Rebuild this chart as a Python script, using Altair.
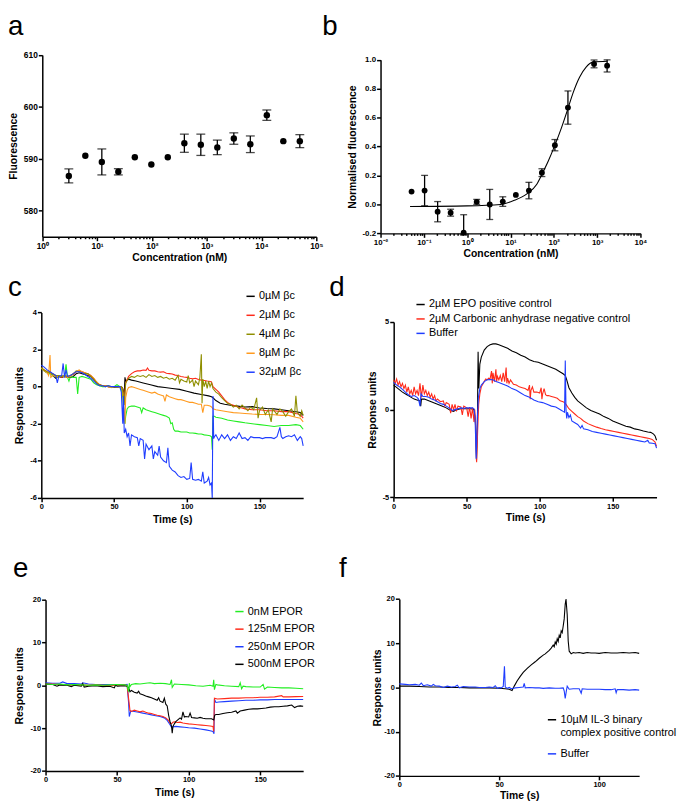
import altair as alt
import pandas as pd

FONT = "Liberation Sans"
BLACK = "#000000"
RED = "#ff2a1a"
OLIVE = "#8f8f00"
ORANGE = "#ff9a1f"
GREEN = "#22ee22"
BLUE = "#1f3dff"

# ---------------- panel a ----------------
A_CONC = [3.05, 6.1, 12.2, 24.4, 48.8, 97.7, 195, 391, 781, 1562, 3125, 6250, 12500, 25000, 50000]
A_FLUOR = [586.7, 590.6, 589.4, 587.5, 590.3, 588.9, 590.3, 593.0, 592.7, 592.2, 593.9, 592.8, 598.4, 593.4, 593.4]
A_ERR = [1.35, 0.0, 2.5, 0.6, 0.0, 0.0, 0.0, 1.75, 2.05, 1.4, 1.1, 1.6, 1.0, 0.0, 1.25]

# ---------------- panel b ----------------
B_CONC = [0.052, 0.104, 0.208, 0.415, 0.83, 1.66, 3.32, 6.64, 13.3, 26.6, 53.1, 106, 212, 850, 1700]
B_NORM = [0.089, 0.096, -0.05, -0.057, -0.196, 0.018, 0.0, 0.02, 0.066, 0.096, 0.22, 0.41, 0.67, 0.972, 0.96]
B_ERR = [0.0, 0.105, 0.07, 0.024, 0.125, 0.017, 0.104, 0.033, 0.0, 0.057, 0.027, 0.039, 0.115, 0.027, 0.044]
B_FIT_CONC = [0.048, 1.0, 5.9, 11.9, 23.9, 40.5, 53.5, 74.6, 106, 150, 213, 277, 393, 557, 791, 1734]
B_FIT_Y = [-0.014, -0.01, 0.0, 0.027, 0.073, 0.14, 0.21, 0.30, 0.41, 0.53, 0.665, 0.77, 0.88, 0.95, 0.984, 0.99]

# ---------------- panel c (time s, response units) ----------------
C_LABELS = ["0µM βc", "2µM βc", "4µM βc", "8µM βc", "32µM βc"]
C_BLACK = [[0, 1.0], [2, 0.85], [4, 0.75], [6, 0.7], [8, 0.6], [10, 0.45], [12, 0.55], [14, 0.5], [16, 0.55], [18, 0.5],
           [20, 0.5], [22, 0.55], [24, 0.7], [26, 0.75], [28, 0.7], [30, 0.65], [32, 0.6], [34, 0.55], [36, 0.4], [38, 0.2],
           [40, 0.1], [42, 0.05], [44, 0.05], [46, 0.0], [48, 0.0], [50, -0.05], [52, -0.05], [54, 0.0], [55, 0.0], [56, -0.1],
           [57, -0.5], [57.5, 0.5], [58, 0.3], [60, 0.4], [62, 0.35], [65, 0.3], [70, 0.2], [75, 0.1], [80, 0.0], [85, -0.05],
           [90, -0.1], [95, -0.15], [100, -0.25], [105, -0.35], [110, -0.42], [115, -0.5], [117, -0.55], [118, -0.6], [120, -0.75],
           [123, -0.9], [126, -0.95], [130, -1.0], [135, -1.05], [140, -1.1], [145, -1.08], [150, -1.15], [155, -1.18], [160, -1.2],
           [165, -1.25], [170, -1.3], [175, -1.35], [178, -1.4], [180, -1.55]]
C_RED = [[0, 1.0], [2, 0.9], [4, 0.8], [6, 0.75], [8, 0.65], [10, 0.55], [12, 0.6], [14, 0.5], [16, 0.6], [18, 0.55],
         [20, 0.6], [22, 0.65], [24, 0.8], [26, 0.85], [28, 0.8], [30, 0.75], [32, 0.7], [34, 0.6], [36, 0.45], [38, 0.25],
         [40, 0.1], [42, 0.05], [44, 0.05], [46, 0.0], [48, -0.05], [50, 0.0], [52, -0.05], [54, 0.0], [55, 0.0], [56, -0.2],
         [57, -0.8], [58, 0.2], [60, 0.55], [62, 0.7], [64, 0.8], [66, 0.85], [68, 0.85], [70, 0.9], [72, 0.88], [73, 1.0],
         [74, 0.88], [76, 0.85], [78, 0.85], [80, 0.8], [82, 0.78], [84, 0.8], [86, 0.72], [88, 0.7], [90, 0.68], [92, 0.62],
         [94, 0.6], [96, 0.55], [98, 0.52], [100, 0.5], [102, 0.45], [104, 0.42], [106, 0.45], [108, 0.38], [110, 0.35],
         [112, 0.33], [114, 0.3], [116, 0.28], [117, 0.25], [118, 0.0], [120, -0.15], [122, -0.3], [124, -0.5], [126, -0.7],
         [128, -0.85], [130, -0.95], [132, -1.0], [135, -1.1], [138, -1.15], [140, -1.2], [145, -1.25], [150, -1.25],
         [155, -1.3], [160, -1.3], [165, -1.35], [170, -1.35], [175, -1.45], [178, -1.5], [180, -1.7]]
C_OLIVE = [[0, 1.0], [2, 0.9], [4, 0.8], [6, 0.75], [8, 0.7], [10, 0.6], [12, 0.6], [14, 0.55], [16, 0.6], [18, 0.55],
           [20, 0.6], [22, 0.7], [24, 0.85], [26, 0.8], [28, 0.75], [30, 0.7], [32, 0.7], [34, 0.55], [36, 0.4], [38, 0.2],
           [40, 0.1], [42, 0.05], [44, 0.0], [46, 0.05], [48, 0.0], [50, 0.0], [52, -0.05], [54, 0.0], [55, 0.0], [56, -0.2],
           [57, -1.0], [58, 0.2], [60, 0.45], [62, 0.55], [64, 0.5], [66, 0.6], [68, 0.55], [70, 0.6], [72, 0.5], [74, 0.65],
           [76, 0.55], [78, 0.6], [80, 0.5], [82, 0.55], [84, 0.45], [86, 0.5], [88, 0.4], [90, 0.45], [92, 0.35], [94, 0.6],
           [95, 0.2], [96, 0.4], [98, 0.3], [100, 0.25], [101, 0.6], [102, 0.2], [104, 0.35], [105, 0.0], [106, 0.3], [108, 0.1],
           [109, 0.5], [110, 1.75], [110.5, -0.9], [111, 0.4], [112, 0.0], [113, 0.3], [114, -0.1], [115, 0.3], [116, 0.0],
           [117, 0.2], [118, -0.1], [120, -0.3], [122, -0.4], [124, -0.6], [126, -0.75], [128, -0.9], [130, -0.95], [132, -1.1],
           [134, -1.0], [136, -1.2], [138, -1.0], [140, -1.15], [142, -1.3], [144, -1.1], [146, -1.25], [148, -0.6], [149, -1.7],
           [150, -1.3], [152, -1.1], [154, -1.5], [156, -1.25], [158, -1.9], [159, -1.2], [160, -1.3], [162, -1.5], [164, -1.2],
           [166, -1.35], [168, -1.6], [170, -1.35], [172, -1.2], [174, -1.6], [175, -0.5], [176, -1.4], [178, -1.6], [179, -1.3],
           [180, -1.55]]
C_ORANGE = [[0, 1.0], [2, 0.85], [4, 0.75], [5, 0.6], [6, 1.7], [6.5, 0.5], [8, 0.6], [10, 0.55], [12, 0.5], [14, 0.6],
            [16, 0.55], [18, 0.5], [20, 0.55], [22, 0.7], [24, 0.8], [26, 0.9], [28, 0.8], [30, 0.75], [32, 0.65], [34, 0.6],
            [36, 0.45], [38, 0.25], [40, 0.1], [42, 0.05], [44, 0.05], [46, 0.0], [48, -0.05], [50, 0.0], [52, 0.0], [54, -0.05],
            [55, 0.0], [56, -0.3], [57, -1.5], [57.5, -2.0], [58, -0.6], [59, -0.2], [60, -0.05], [62, 0.0], [64, -0.05],
            [66, -0.1], [68, -0.15], [70, -0.2], [72, -0.25], [74, -0.3], [76, -0.35], [78, -0.3], [80, -0.4], [82, -0.45],
            [84, -0.5], [85, -0.8], [86, -0.45], [88, -0.55], [90, -0.6], [92, -0.65], [94, -0.7], [96, -0.7], [98, -0.75],
            [100, -0.8], [102, -0.85], [104, -0.85], [106, -0.9], [108, -0.95], [110, -0.95], [111, -1.4], [112, -1.0],
            [114, -1.0], [116, -1.05], [117, -1.1], [118, -1.2], [120, -1.25], [124, -1.3], [128, -1.35], [132, -1.4],
            [136, -1.42], [140, -1.45], [145, -1.48], [150, -1.5], [155, -1.5], [160, -1.52], [165, -1.55], [170, -1.55],
            [175, -1.65], [178, -1.7], [180, -1.9]]
C_GREEN = [[0, 1.0], [2, 0.85], [4, 0.75], [6, 0.7], [8, 0.6], [10, 0.55], [12, 0.5], [14, 0.6], [16, 0.55], [17, 1.2],
           [18, 0.5], [19, 0.3], [20, 0.55], [22, 0.5], [24, 0.5], [25, -0.4], [26, 0.5], [28, 0.55], [30, 0.5], [32, 0.45],
           [34, 0.4], [36, 0.2], [38, 0.1], [40, 0.05], [42, 0.0], [44, 0.0], [46, 0.05], [48, -0.05], [50, 0.0], [52, 0.1],
           [54, 0.0], [55, -0.1], [56, -0.6], [57, -1.5], [57.5, -2.0], [58, -1.6], [59, -1.2], [60, -1.1], [62, -1.05],
           [64, -1.05], [66, -1.1], [68, -1.15], [69, -1.4], [70, -1.15], [72, -1.25], [74, -1.3], [76, -1.35], [78, -1.4],
           [80, -1.45], [82, -1.5], [84, -1.55], [86, -1.6], [88, -1.7], [89, -2.0], [90, -1.95], [91, -2.3], [92, -2.4],
           [94, -2.4], [96, -2.45], [98, -2.45], [100, -2.45], [102, -2.5], [104, -2.5], [106, -2.52], [108, -2.55],
           [110, -2.55], [112, -2.6], [114, -2.62], [116, -2.65], [117, -2.7], [117.5, -3.4], [118, -1.6], [119, -1.6],
           [120, -1.65], [124, -1.7], [128, -1.8], [132, -1.85], [136, -1.9], [140, -1.95], [145, -2.0], [150, -2.05],
           [155, -2.1], [160, -2.15], [165, -2.1], [170, -2.1], [175, -2.05], [178, -2.1], [180, -2.3]]
C_BLUE = [[0, 1.15], [2, 1.05], [4, 0.9], [6, 0.8], [8, 0.7], [10, 0.6], [11, 0.2], [12, 0.55], [14, 0.6], [15, 1.25],
          [16, 0.5], [17, 0.9], [18, 0.55], [20, 0.6], [22, 0.7], [24, 0.8], [26, 0.8], [28, 0.75], [30, 0.65], [32, 0.55],
          [34, 0.45], [36, 0.3], [38, 0.15], [40, 0.05], [42, 0.05], [44, 0.0], [46, 0.05], [48, 0.0], [50, 0.0], [52, 0.0],
          [54, 0.0], [55, -0.3], [56, -2.0], [56.5, -0.5], [57, -2.5], [58, -2.3], [59, -2.7], [60, -2.5], [61, -3.2],
          [62, -2.6], [64, -2.7], [66, -2.75], [67, -3.2], [68, -2.8], [70, -2.9], [71, -3.9], [72, -3.1], [74, -3.4],
          [76, -3.2], [77, -3.9], [78, -3.5], [80, -3.7], [81, -3.2], [82, -3.8], [84, -4.0], [86, -4.1], [87, -3.3],
          [88, -4.3], [90, -4.5], [92, -4.6], [94, -4.8], [96, -4.9], [98, -4.85], [100, -5.0], [102, -4.95], [103, -4.1],
          [104, -5.0], [106, -5.05], [108, -5.0], [110, -5.1], [111, -4.6], [112, -5.2], [114, -5.1], [115, -4.9],
          [116, -5.3], [117, -5.2], [117.5, -6.0], [118, -0.5], [118.5, -2.8], [119, -2.7], [120, -2.6], [122, -2.9],
          [124, -2.6], [126, -2.8], [128, -2.6], [130, -2.9], [132, -2.7], [134, -2.8], [136, -2.5], [138, -2.8],
          [140, -2.75], [142, -2.9], [144, -2.7], [146, -2.75], [148, -2.75], [150, -2.75], [152, -2.8], [154, -2.75],
          [156, -2.75], [158, -2.75], [160, -2.8], [162, -2.7], [164, -2.2], [165, -2.7], [166, -2.8], [168, -2.7],
          [170, -2.65], [172, -2.7], [174, -2.6], [176, -2.9], [178, -2.7], [179, -2.8], [180, -3.2]]

# ---------------- panel d ----------------
D_LABELS = ["2µM EPO positive control", "2µM Carbonic anhydrase  negative control", "Buffer"]
D_BLACK = [[0, 1.4], [3, 1.2], [6, 1.0], [9, 0.85], [10, 0.8], [12, 0.7], [14, 0.6], [16, 0.55], [18, 0.5], [18.5, 0.2],
           [19, 0.6], [21, 0.6], [24, 0.5], [27, 0.4], [30, 0.3], [33, 0.2], [36, 0.1], [39, -0.05], [41, -0.1], [43, 0.0],
           [46, 0.05], [50, 0.05], [53, 0.05], [55, 0.0], [56, -0.8], [56.7, -2.9], [57.3, -1.0], [57.8, 3.3], [58.3, 1.2],
           [59, 2.6], [60, 3.0], [62, 3.4], [64, 3.6], [66, 3.7], [68, 3.75], [70, 3.75], [72, 3.7], [75, 3.6], [78, 3.5],
           [81, 3.35], [84, 3.25], [87, 3.1], [90, 3.0], [93, 2.85], [96, 2.75], [99, 2.7], [102, 2.6], [105, 2.5],
           [108, 2.4], [111, 2.3], [114, 2.15], [116, 2.05], [117.5, 1.95], [118.5, 1.7], [120, 1.25], [122, 0.95],
           [124, 0.7], [126, 0.5], [129, 0.3], [132, 0.1], [135, -0.05], [138, -0.15], [141, -0.25], [144, -0.4],
           [147, -0.5], [150, -0.65], [153, -0.75], [156, -0.85], [159, -0.95], [162, -1.0], [165, -1.1], [168, -1.15],
           [171, -1.22], [174, -1.28], [176, -1.3], [178, -1.4], [179, -1.5], [180, -1.75]]
D_RED = [[0, 1.7], [1, 1.5], [2, 1.75], [3, 1.4], [4, 1.6], [5, 1.3], [6, 1.5], [7, 1.2], [8, 1.4], [9, 1.0], [10, 1.3],
         [11, 0.9], [12, 1.1], [13, 0.8], [14, 1.3], [15, 0.9], [16, 1.1], [17, 0.8], [18, 1.5], [19, 0.7], [20, 1.4],
         [21, 0.9], [22, 1.1], [23, 0.8], [24, 1.0], [25, 0.7], [26, 0.9], [27, 0.6], [28, 0.8], [29, 0.5], [30, 0.6],
         [32, 0.45], [34, 0.5], [35, 0.2], [36, 0.4], [38, 0.3], [39, -0.2], [40, 0.3], [41, 0.0], [42, 0.3], [43, -0.1],
         [44, 0.2], [46, 0.15], [47, -0.3], [48, 0.2], [50, 0.1], [51, -0.4], [52, 0.15], [53, -0.5], [54, 0.1],
         [55, -0.7], [55.5, 0.0], [56, -0.6], [56.8, -3.0], [57.5, -1.2], [58.2, 0.3], [59, 0.9], [60, 1.3], [61, 1.45],
         [62, 1.6], [63, 1.75], [64, 1.7], [65, 1.8], [66, 1.75], [67, 2.2], [67.5, 1.5], [68, 2.1], [69, 1.6], [70, 2.3],
         [70.5, 1.6], [71, 1.9], [72, 1.7], [73, 1.95], [74, 1.6], [75, 2.1], [76, 1.6], [77, 2.4], [77.5, 1.5], [78, 1.8],
         [79, 1.5], [80, 1.7], [82, 1.45], [84, 1.4], [86, 1.3], [88, 1.25], [90, 1.2], [92, 1.1], [93, 1.4], [93.5, 0.6],
         [94, 1.1], [95, 1.3], [96, 1.0], [98, 1.0], [100, 0.95], [101, 1.25], [101.5, 0.6], [102, 0.9], [103, 1.2],
         [104, 0.85], [105, 0.8], [106, 0.8], [108, 0.75], [110, 0.7], [112, 0.65], [114, 0.5], [116, 0.45], [117, 0.4],
         [118, 0.3], [120, 0.05], [122, -0.1], [124, -0.25], [126, -0.4], [128, -0.5], [130, -0.65], [133, -0.8],
         [136, -0.9], [139, -1.0], [142, -1.08], [145, -1.15], [148, -1.2], [151, -1.25], [154, -1.3], [157, -1.35],
         [160, -1.4], [163, -1.45], [166, -1.5], [169, -1.55], [172, -1.6], [175, -1.65], [177, -1.7], [179, -1.85],
         [180, -2.1]]
D_BLUE = [[0, 1.55], [2, 1.4], [4, 1.3], [6, 1.15], [8, 1.0], [10, 0.85], [12, 0.75], [14, 0.8], [16, 0.7], [17, 0.6],
          [18, 0.2], [18.7, 0.9], [20, 0.75], [22, 0.75], [24, 0.7], [26, 0.6], [28, 0.55], [30, 0.45], [32, 0.35],
          [34, 0.3], [36, 0.2], [38, 0.1], [40, -0.05], [42, 0.0], [44, 0.05], [46, 0.1], [48, 0.08], [50, 0.1],
          [52, 0.1], [54, 0.1], [55, 0.05], [55.7, -0.4], [56.5, -2.8], [57.3, -0.5], [58, 0.7], [59, 1.2], [60, 1.4],
          [62, 1.6], [64, 1.7], [66, 1.72], [68, 1.7], [70, 1.6], [72, 1.55], [75, 1.45], [78, 1.35], [81, 1.2],
          [84, 1.1], [87, 0.95], [90, 0.8], [93, 0.7], [96, 0.55], [99, 0.45], [102, 0.4], [105, 0.3], [108, 0.2],
          [111, 0.15], [113, 0.05], [115, -0.05], [116, -0.1], [117, -0.15], [117.5, 2.8], [118, 0.0], [118.5, -0.5],
          [119, -0.15], [120, -0.45], [121, -0.3], [122, -0.65], [124, -0.75], [126, -0.85], [128, -1.05], [129, -0.9],
          [130, -1.1], [133, -1.15], [136, -1.25], [139, -1.3], [142, -1.35], [145, -1.4], [148, -1.45], [151, -1.5],
          [154, -1.55], [157, -1.6], [160, -1.65], [163, -1.7], [166, -1.75], [169, -1.8], [172, -1.85], [174, -1.75],
          [175, -1.9], [177, -1.92], [179, -1.95], [180, -2.2]]

# ---------------- panel e ----------------
E_LABELS = ["0nM EPOR", "125nM EPOR", "250nM EPOR", "500nM EPOR"]
E_GREEN = [[0, 0.3], [5, 0.2], [10, 0.3], [15, 0.1], [20, 0.2], [25, 0.1], [30, 0.0], [35, 0.1], [40, 0.0], [45, 0.1],
           [50, 0.2], [55, 0.1], [57, 0.0], [58, -1.5], [58.5, 0.5], [59, -0.3], [60, 0.2], [63, 0.4], [66, 0.3], [70, 0.5],
           [73, 0.6], [76, 0.4], [80, 0.5], [84, 0.4], [87, 0.2], [88, 1.3], [88.5, -0.5], [90, 0.3], [95, 0.2], [100, 0.1],
           [105, -0.1], [110, -0.2], [115, 0.0], [117, -0.2], [117.5, 1.3], [118, -1.0], [119, 0.2], [120, 0.1],
           [125, -0.1], [130, -0.2], [135, -0.3], [136, 0.6], [137, -0.8], [138, -0.2], [140, -0.3], [145, -0.4],
           [150, -0.4], [152, 0.2], [153, -0.9], [155, -0.4], [160, -0.5], [165, -0.6], [170, -0.6], [175, -0.7],
           [180, -0.8]]
E_RED = [[0, 0.3], [5, 0.3], [10, 0.2], [15, 0.1], [20, 0.0], [25, 0.1], [30, 0.0], [35, 0.1], [40, 0.0], [45, -0.1],
         [50, 0.0], [55, 0.1], [57, -0.1], [58, -3.0], [59, -5.9], [60, -6.1], [62, -5.8], [64, -6.0], [66, -6.2],
         [68, -6.0], [70, -6.3], [72, -6.5], [74, -6.6], [76, -6.8], [78, -7.0], [80, -7.1], [82, -7.3], [84, -7.6],
         [86, -8.2], [87, -8.8], [88, -9.0], [89, -8.6], [90, -8.5], [92, -8.7], [94, -8.6], [96, -8.8], [98, -8.9],
         [100, -9.0], [103, -9.1], [106, -9.2], [109, -9.3], [112, -9.4], [115, -9.5], [117, -9.6], [117.5, -10.8],
         [118, -3.0], [120, -3.2], [125, -3.1], [130, -3.0], [135, -3.0], [140, -2.9], [145, -2.9], [150, -2.8],
         [155, -2.8], [160, -2.7], [165, -2.4], [166, -2.7], [170, -2.7], [175, -2.65], [180, -2.6]]
E_BLUE = [[0, 0.6], [5, 0.5], [10, 0.5], [12, 0.8], [15, 0.4], [20, 0.4], [25, 0.3], [26, 0.6], [30, 0.3], [35, 0.2],
          [40, 0.2], [45, 0.2], [50, 0.1], [55, 0.1], [57, 0.2], [58, -4.0], [58.5, -7.3], [59.5, -6.0], [62, -6.1],
          [65, -6.3], [68, -6.5], [71, -6.7], [74, -6.9], [77, -7.1], [80, -7.3], [83, -7.6], [85, -8.2], [87, -9.2],
          [88, -9.8], [89, -9.7], [91, -9.6], [94, -9.7], [97, -9.8], [100, -9.9], [104, -10.0], [108, -10.2],
          [112, -10.4], [115, -10.6], [117, -10.8], [117.7, -11.3], [118, -3.2], [119, -4.0], [121, -3.9], [125, -3.8],
          [130, -3.7], [135, -3.6], [140, -3.5], [145, -3.5], [150, -3.4], [155, -3.4], [160, -3.3], [165, -3.3],
          [170, -3.3], [175, -3.3], [180, -3.3]]
E_BLACK = [[0, 0.3], [5, 0.2], [8, -0.2], [10, 0.1], [15, 0.0], [18, -0.3], [20, 0.0], [25, -0.2], [26, 0.4], [27, -0.4],
           [30, -0.2], [35, -0.1], [40, -0.3], [45, -0.2], [48, -0.6], [49, 0.1], [50, -0.2], [55, -0.1], [57, -0.2],
           [58, -0.5], [59, -1.5], [60, -1.2], [62, -1.6], [64, -1.8], [65, -1.4], [66, -2.0], [68, -2.2], [70, -2.5],
           [72, -2.7], [74, -2.9], [76, -3.2], [78, -3.5], [79, -2.9], [80, -3.7], [82, -4.0], [83, -3.0], [84, -4.4],
           [85, -4.8], [86, -7.0], [87, -8.5], [88, -9.5], [88.5, -11.2], [89, -9.6], [90, -9.0], [91, -8.5], [92, -8.2],
           [93, -7.9], [94, -7.6], [95, -7.9], [96, -6.2], [97, -7.4], [98, -7.3], [100, -7.4], [101, -6.5], [102, -7.5],
           [104, -7.6], [106, -7.7], [108, -7.5], [110, -7.7], [112, -7.8], [114, -7.8], [116, -7.8], [117.5, -8.1],
           [118.2, -7.0], [119, -6.8], [121, -6.8], [124, -6.6], [127, -6.4], [130, -6.3], [133, -6.0], [134, -6.5],
           [136, -6.0], [139, -5.8], [142, -5.6], [145, -5.5], [148, -5.5], [151, -5.4], [154, -5.3], [157, -5.1],
           [160, -5.0], [163, -5.0], [166, -4.9], [169, -4.8], [172, -4.6], [174, -5.2], [176, -4.9], [178, -4.8],
           [180, -4.9]]

# ---------------- panel f ----------------
F_LABELS = ["10µM IL-3 binary complex positive control", "Buffer"]
F_BLACK = [[0, 0.3], [5, 0.3], [10, 0.2], [15, 0.1], [20, 0.1], [25, 0.0], [30, 0.0], [35, -0.1], [40, -0.1], [45, -0.1],
           [50, -0.2], [53, -0.3], [55, -0.4], [56.4, -0.7], [57.5, 0.3], [59, 1.5], [60.5, 2.5], [62, 3.4], [64, 4.3],
           [66, 5.1], [68, 5.8], [70, 6.6], [72, 7.3], [73, 7.6], [74, 8.0], [75, 8.4], [76, 8.9], [77, 9.6], [77.5, 9.2],
           [78, 10.3], [78.5, 9.8], [79, 11.0], [79.5, 10.4], [80, 11.8], [80.5, 11.2], [81, 12.8], [81.5, 12.4],
           [82, 13.9], [82.5, 15.5], [83, 18.8], [83.4, 20.0], [84, 16.5], [84.5, 10.5], [85, 8.2], [86, 7.6], [87, 7.9],
           [88, 7.8], [90, 7.9], [92, 7.7], [94, 7.9], [96, 7.8], [98, 7.8], [100, 7.7], [103, 7.9], [106, 7.8],
           [109, 7.8], [112, 7.9], [115, 7.8], [118, 7.9], [120, 7.7]]
F_BLUE = [[0, 0.8], [3, 0.7], [5, 0.6], [8, 0.7], [10, 0.5], [11, 1.0], [12, 0.4], [14, 0.6], [16, 0.3], [17, 0.7],
          [18, 0.4], [20, 0.3], [22, 0.0], [24, 0.3], [26, 0.1], [28, 0.2], [29, 0.5], [30, -0.1], [32, 0.2], [35, 0.1],
          [38, 0.1], [40, 0.0], [43, 0.0], [45, 0.1], [47, 0.0], [48, 0.4], [49, -0.2], [50, 0.0], [51, -0.1], [52, 0.2],
          [52.6, 4.8], [53, 0.1], [54, -0.2], [55, 0.0], [56, -0.3], [58, -0.1], [60, 0.0], [62, 0.1], [62.5, 0.9],
          [63, -0.1], [65, 0.0], [68, -0.1], [70, -0.1], [72, -0.2], [75, -0.1], [78, -0.2], [80, -0.2], [82, -0.1],
          [82.5, -0.8], [83, -2.5], [83.5, -1.0], [84, 0.3], [85, -0.4], [87, -0.3], [90, -0.3], [91, -1.3], [91.5, -0.3],
          [94, -0.4], [97, -0.4], [100, -0.4], [103, -0.5], [106, -0.5], [108, -0.3], [108.5, -1.2], [109, -0.5],
          [112, -0.5], [115, -0.6], [118, -0.5], [120, -0.6]]

# ---------------- layout: one canvas, each panel gets its own plot rectangle ----------------
VIEW_W, VIEW_H = 660, 773
# (left, top, right, bottom) of each plot area, in canvas pixels
BOX = {"a": (34.7, 42.7, 312.0, 226.7), "b": (377.0, 47.7, 640.0, 223.3),
       "c": (33.7, 303.3, 298.7, 491.0), "d": (390.3, 313.0, 656.3, 490.3),
       "e": (38.0, 594.0, 298.7, 767.3), "f": (396.0, 593.3, 638.7, 772.3)}


# ---------------- helpers ----------------
def traces(pairs_by_name):
    frames = []
    for name, pairs in pairs_by_name:
        frames.append(pd.DataFrame({"t": [p[0] for p in pairs], "v": [p[1] for p in pairs], "s": name}))
    return pd.concat(frames, ignore_index=True)


SUP = {-2: "\u207b\u00b2", -1: "\u207b\u00b9", 0: "\u2070", 1: "\u00b9", 2: "\u00b2", 3: "\u00b3", 4: "\u2074", 5: "\u2075"}


def x_offset(box):
    return box[3] - VIEW_H


def log_axis(title, lo, hi, title_pad, label_size, box):
    values = []
    for e in range(lo, hi):
        for m in range(1, 10):
            values.append(m * 10.0 ** e)
    values.append(10.0 ** hi)
    ex = "round(log(datum.value)/LN10)"
    isdec = f"abs(log(datum.value)/LN10 - {ex}) < 0.001"
    lab = "''"
    for e in range(hi, lo - 1, -1):
        lab = f"{ex} == {e} ? '10{SUP[e]}' : ({lab})"
    return alt.Axis(title=title, values=values, labelExpr=f"{isdec} ? ({lab}) : ''",
                    tickSize={"condition": {"test": isdec, "value": 4}, "value": 2},
                    labelOverlap=False, labelFlush=False, titlePadding=title_pad, labelFontSize=label_size,
                    orient="bottom", offset=x_offset(box))


def lin_axis(values, title, title_pad, orient, offset, label_size=7.5, fmt=None):
    kw = dict(values=values, title=title, titlePadding=title_pad, labelFontSize=label_size,
              labelExpr="replace(datum.label, '\u2212', '-')", labelOverlap=False, labelFlush=False,
              orient=orient, offset=offset)
    if fmt:
        kw["format"] = fmt
    return alt.Axis(**kw)


def dots_panel(key, conc, vals, errs, xtitle, dec, ydom, yvals, ytitle, ylab, yfmt, pads, size, cap, fit=None):
    box = BOX[key]
    df = pd.DataFrame({"conc": conc, "val": vals, "err": errs})
    df["lo"] = df["val"] - df["err"]
    df["hi"] = df["val"] + df["err"]
    xs = alt.Scale(type="log", domain=[10.0 ** dec[0], 10.0 ** dec[1]], range=[box[0], box[2]])
    ys = alt.Scale(domain=ydom, nice=False, zero=False, clamp=True, range=[box[3], box[1]])
    xaxis = log_axis(xtitle, dec[0], dec[1], pads[0], ylab, box)
    yaxis = lin_axis(yvals, ytitle, pads[1], "left", -box[0], ylab, yfmt)
    x = alt.X("conc:Q", scale=xs, axis=xaxis)
    base = alt.Chart(df)
    eb = base.transform_filter("datum.err > 0")
    layers = []
    if fit is not None:
        fdf = pd.DataFrame({"conc": fit[0], "val": fit[1]})
        layers.append(alt.Chart(fdf).mark_line(color="black", strokeWidth=1.1, interpolate="monotone").encode(
            x=x, y=alt.Y("val:Q", scale=ys, axis=yaxis)))
    layers.append(eb.mark_rule(color="black", strokeWidth=1.3).encode(
        x=x, y=alt.Y("lo:Q", scale=ys, axis=yaxis), y2="hi:Q"))
    for col in ("lo", "hi"):
        layers.append(eb.transform_filter(f"datum.{col} >= {ydom[0]}").mark_tick(
            orient="horizontal", size=cap, thickness=1.3, color="black").encode(
            x=x, y=alt.Y(f"{col}:Q", scale=ys, axis=yaxis)))
    layers.append(base.mark_circle(size=size, color="black", opacity=1).encode(
        x=x, y=alt.Y("val:Q", scale=ys, axis=yaxis)))
    return alt.layer(*layers)


def make_legend(lx, ly, row_pad, expr=None):
    kw = dict(title=None, orient="none", legendX=lx, legendY=ly, symbolType="stroke", symbolSize=70,
              symbolStrokeWidth=1.5, labelFontSize=11, labelFont=FONT, labelColor="black", rowPadding=row_pad,
              padding=0, labelOffset=3, labelLimit=0)
    if expr:
        kw["labelExpr"] = expr
    return alt.Legend(**kw)


def trace_panel(key, df, draw_order, domain, rng, legend, xdom, xvals, ydom, yvals, pads, extra=None):
    box = BOX[key]
    xs = alt.Scale(domain=xdom, nice=False, zero=False, range=[box[0], box[2]])
    ys = alt.Scale(domain=ydom, nice=False, zero=False, clamp=True, range=[box[3], box[1]])
    x = alt.X("t:Q", scale=xs, axis=lin_axis(xvals, "Time (s)", pads[0], "bottom", x_offset(box)))
    y = alt.Y("v:Q", scale=ys, axis=lin_axis(yvals, "Response units", pads[1], "left", -box[0]))
    cs = alt.Scale(domain=domain, range=rng)
    layers = []
    for name in draw_order:
        if extra is not None and name == extra[0]:
            edf = traces([(extra[0], extra[1])])
            layers.append(alt.Chart(edf).mark_line(strokeWidth=1.1, color=extra[2]).encode(x=x, y=y))
            continue
        layers.append(alt.Chart(df).transform_filter(alt.datum.s == name).mark_line(strokeWidth=1.1).encode(
            x=x, y=y, color=alt.Color("s:N", scale=cs, legend=legend)))
    return alt.layer(*layers)


def panel_letter(t, x, y):
    return alt.Chart(pd.DataFrame({"k": [0]})).mark_text(
        text=t, fontSize=28, font=FONT, fontWeight="normal", color="black", align="left",
        baseline="alphabetic").encode(x=alt.value(x), y=alt.value(y))


# ---------------- panels ----------------
pa = dots_panel("a", A_CONC, A_FLUOR, A_ERR, "Concentration (nM)", (0, 5), [575, 610], [580, 590, 600, 610],
                "Fluorescence", 8.5, None, (3, 5), 42, 9)

pb = dots_panel("b", B_CONC, B_NORM, B_ERR, "Concentration (nM)", (-2, 4), [-0.2, 1.0],
                [-0.2, 0, 0.2, 0.4, 0.6, 0.8, 1.0], "Normalised fluorescence", 8, ".1f", (2, 5), 35, 7,
                fit=(B_FIT_CONC, B_FIT_Y))

c_df = traces(list(zip(C_LABELS, [C_BLACK, C_RED, C_OLIVE, C_ORANGE, C_BLUE])))
pc = trace_panel("c", c_df, ["0µM βc", "2µM βc", "green", "8µM βc", "4µM βc", "32µM βc"], C_LABELS,
                 [BLACK, RED, OLIVE, ORANGE, BLUE], make_legend(240, 281.5, 7.2), [0, 180], [0, 50, 100, 150],
                 [-6, 4], [-6, -4, -2, 0, 2, 4], (4, 5), extra=("green", C_GREEN, GREEN))

d_df = traces(list(zip(D_LABELS, [D_BLACK, D_RED, D_BLUE])))
pd_ = trace_panel("d", d_df, D_LABELS, D_LABELS, [BLACK, RED, BLUE], make_legend(412, 289.8, 2.6), [0, 180],
                  [0, 50, 100, 150], [-5, 5], [-5, 0, 5], (3, 5))

e_df = traces(list(zip(E_LABELS, [E_GREEN, E_RED, E_BLUE, E_BLACK])))
pe = trace_panel("e", e_df, ["250nM EPOR", "125nM EPOR", "500nM EPOR", "0nM EPOR"], E_LABELS,
                 [GREEN, RED, BLUE, BLACK], make_legend(228.7, 600.5, 5.8), [0, 180], [0, 50, 100, 150],
                 [-20, 20], [-20, -10, 0, 10, 20], (4, 5))

f_expr = ("datum.label == '10µM IL-3 binary complex positive control' ? "
          "['10µM IL-3 binary', 'complex positive control'] : datum.label")
f_df = traces(list(zip(F_LABELS, [F_BLACK, F_BLUE])))
pf = trace_panel("f", f_df, F_LABELS, F_LABELS, [BLACK, BLUE], make_legend(545, 710, 9.5, f_expr), [0, 120],
                 [0, 50, 100], [-20, 20], [-20, -10, 0, 10, 20], (2, 1))

letters = [panel_letter("a", 0, 22.5), panel_letter("b", 318, 22.5), panel_letter("c", 0, 287),
           panel_letter("d", 325, 287), panel_letter("e", 5, 570.7), panel_letter("f", 335, 570.7)]

chart = alt.layer(pa, pb, pc, pd_, pe, pf, *letters).resolve_scale(
    x="independent", y="independent", color="independent").properties(
    width=VIEW_W, height=VIEW_H, padding=0)

chart = chart.configure_view(stroke=None).configure_axis(
    domainColor="black", domainWidth=1.5, tickColor="black", tickWidth=1.5, tickSize=4, grid=False,
    labelFont=FONT, labelFontWeight="bold", labelColor="black", labelPadding=1,
    titleFont=FONT, titleFontWeight="bold", titleFontSize=10.5, titleColor="black")

chart.save("out.html", embed_options={"renderer": "svg", "actions": False})
